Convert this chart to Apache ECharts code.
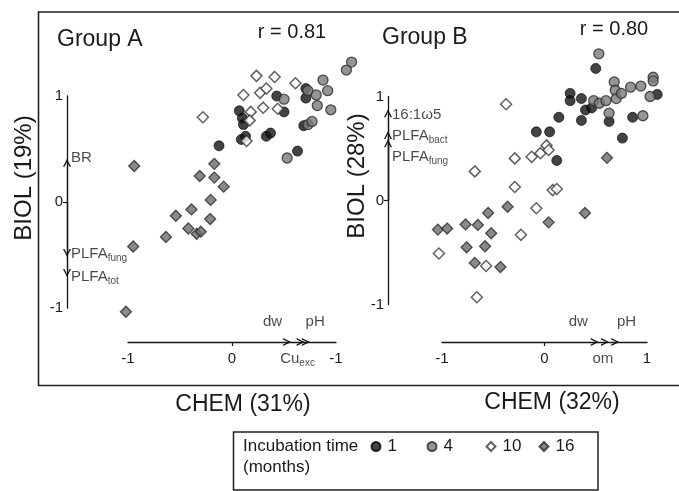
<!DOCTYPE html>
<html><head><meta charset="utf-8">
<script src="https://cdn.jsdelivr.net/npm/echarts@6/dist/echarts.min.js"></script>
<style>html,body{margin:0;padding:0;background:#fff}#c{width:679px;height:491px}</style>
</head><body><div id="c"></div>
<script>
const FONT = '"Liberation Sans", Arial, Helvetica, sans-serif';

// ---------------- DATA ----------------
const tickValues = [-1, 0, 1];
const xTickLabelsA = ['-1', '0', '-1'];
const xTickLabelsB = ['-1', '0', '1'];
const yTickLabels = ['-1', '0', '1'];
const seriesNames = ['1', '4', '10', '16'];

// Group A  [CHEM, BIOL]
const A_m1 = [[-0.125,0.53],[0.07,0.86],[0.10,0.79],[0.11,0.73],[0.09,0.59],[0.13,0.62],[0.33,0.62],[0.37,0.65],[0.43,1.00],[0.50,0.85],[0.63,0.48],[0.71,1.07],[0.71,0.98],[0.69,0.72]];
const A_m4 = [[0.50,0.97],[0.53,0.415],[0.73,0.73],[0.77,0.76],[0.73,1.05],[0.81,1.01],[0.82,0.91],[0.875,1.15],[0.92,1.05],[0.95,0.87],[1.10,1.245],[1.15,1.32]];
const A_m10 = [[-0.28,0.80],[0.235,1.19],[0.41,1.18],[0.61,1.12],[0.11,1.01],[0.27,1.03],[0.33,1.07],[0.30,0.89],[0.44,0.88],[0.18,0.85],[0.17,0.77],[0.14,0.575]];
const A_m16 = [[-0.94,0.34],[-0.95,-0.42],[-1.02,-1.035],[-0.635,-0.33],[-0.54,-0.13],[-0.42,-0.25],[-0.39,-0.07],[-0.34,-0.30],[-0.30,-0.28],[-0.31,0.245],[-0.21,-0.16],[-0.205,0.02],[-0.17,0.36],[-0.17,0.23],[-0.08,0.145]];

// Group B
const B_m1 = [[0.50,1.27],[0.25,1.03],[0.25,0.96],[0.36,0.98],[0.40,0.87],[0.46,0.89],[0.36,0.77],[0.14,0.80],[-0.08,0.66],[0.05,0.66],[0.12,0.385],[0.63,0.76],[0.76,0.60],[0.86,0.80],[1.10,1.02]];
const B_m4 = [[0.53,1.41],[0.48,0.96],[0.535,0.935],[0.60,0.96],[0.68,1.14],[0.69,1.06],[0.70,0.98],[0.75,1.03],[0.84,1.09],[0.94,1.10],[1.06,1.185],[1.06,1.15],[1.03,1.00],[0.63,0.84],[0.96,0.815]];
const B_m10 = [[-0.375,0.925],[-0.68,0.28],[-0.29,0.405],[-0.125,0.42],[-0.04,0.455],[0.02,0.53],[0.04,0.485],[-0.29,0.13],[0.08,0.10],[0.12,0.11],[-0.08,-0.075],[-0.23,-0.33],[-1.03,-0.51],[-0.57,-0.63],[-0.66,-0.93]];
const B_m16 = [[-1.04,-0.28],[-0.95,-0.27],[-0.77,-0.23],[-0.65,-0.235],[-0.55,-0.12],[-0.52,-0.315],[-0.76,-0.45],[-0.58,-0.44],[-0.68,-0.60],[-0.43,-0.64],[-0.36,-0.06],[0.04,-0.21],[0.395,-0.12],[0.61,0.41]];

// biplot vector loadings (arrow tips)
const A_yVec = [0.37, -0.48, -0.67];          // BR, PLFA fung, PLFA tot
const A_xVec = [0.53, 0.66, 0.71];            // dw, Cu exc, pH
const B_yVec = [0.84, 0.63, 0.55];            // 16:1w5, PLFA bact, PLFA fung
const B_xVec = [0.49, 0.59, 0.69];            // dw, om, pH

// ---------------- LAYOUT ----------------
const gridA = {left:128, top:96, width:208, height:212, xOff:34, yOff:61};
const gridB = {left:442, top:96.5, width:205, height:208, xOff:37.5, yOff:54};

const sub = (a, b) => '{m|' + a + '}{s|' + b + '}';
const A_yLab = [{t:'{m|BR}', y:0.42}, {t:sub('PLFA','fung'), y:-0.49}, {t:sub('PLFA','tot'), y:-0.71}];
const A_xLab = [{t:'{m|dw}', x:0.39, above:true}, {t:'{m|pH}', x:0.80, above:true}, {t:sub('Cu','exc'), x:0.63, above:false}];
const B_yLab = [{t:'{m|16:1ω5}', y:0.82}, {t:sub('PLFA','bact'), y:0.62}, {t:sub('PLFA','fung'), y:0.42}];
const B_xLab = [{t:'{m|dw}', x:0.33, above:true}, {t:'{m|pH}', x:0.80, above:true}, {t:'{m|om}', x:0.57, above:false}];

const styles = {
  '1':  {symbol:'circle',  size:10, z:3, item:{color:'#141414', borderColor:'#000', borderWidth:0.8}},
  '4':  {symbol:'circle',  size:10, z:4, item:{color:'#7b7b7b', borderColor:'#2a2a2a', borderWidth:1.3}},
  '10': {symbol:'diamond', size:11, z:6, item:{color:'#ffffff', borderColor:'#3a3a3a', borderWidth:1.5}},
  '16': {symbol:'diamond', size:11, z:5, item:{color:'#6c6c6c', borderColor:'#2a2a2a', borderWidth:1.3}}
};

const rich = {
  m: {fontSize:15, fontFamily:FONT, color:'#1a1a1a', lineHeight:18, verticalAlign:'middle'},
  s: {fontSize:10, fontFamily:FONT, color:'#1a1a1a', lineHeight:8, verticalAlign:'bottom'}
};
const CHEV = 'path://M0,10 L5,0 L10,10 L8.2,10 L5,3.6 L1.8,10 Z';

function axisPair(gi, g, xLabels) {
  const common = {
    type:'value', gridIndex:gi, min:-1, max:1, interval:1,
    splitLine:{show:false},
    axisLine:{show:true, onZero:false, lineStyle:{color:'#151515', width:1.3}},
    axisTick:{show:true, length:4, customValues:[0], lineStyle:{color:'#151515', width:1.2}},
  };
  const x = Object.assign({}, common, {position:'bottom', offset:g.xOff,
    axisLabel:{margin:9, fontSize:15, fontFamily:FONT, color:'#1a1a1a', formatter:v => xLabels[tickValues.indexOf(v)]}});
  const y = Object.assign({}, common, {position:'left', offset:g.yOff,
    axisLabel:{margin:4, fontSize:15, fontFamily:FONT, color:'#1a1a1a', formatter:v => yTickLabels[tickValues.indexOf(v)]}});
  return [x, y];
}

function panelSeries(gi, g, sets, yVec, xVec, yLab, xLab) {
  const out = [];
  seriesNames.forEach((n, k) => {
    const st = styles[n];
    out.push({type:'scatter', name:n, xAxisIndex:gi, yAxisIndex:gi, clip:false, silent:true,
      symbol:st.symbol, symbolSize:st.size, itemStyle:st.item, z:st.z, data:sets[k]});
  });
  // positions of the drawn biplot axes in data units
  const axX = -1 - 2 * g.yOff / g.width;
  const axY = -1 - 2 * g.xOff / g.height;
  const lines = yVec.map(v => ({coords:[[axX, 0], [axX, v]]}))
    .concat(xVec.map(v => ({coords:[[0, axY], [v, axY]]})));
  out.push({type:'lines', coordinateSystem:'cartesian2d', xAxisIndex:gi, yAxisIndex:gi, clip:false, silent:true,
    symbol:['none', CHEV], symbolSize:[8, 8], z:2,
    lineStyle:{color:'#151515', width:1.2, opacity:1, curveness:0}, data:lines});
  const labs = yLab.map(l => ({value:[axX, l.y], label:{show:true, position:'right', distance:4, formatter:l.t, rich}}))
    .concat(xLab.map(l => ({value:[l.x, axY + (l.above ? 0.19 : -0.16) * 212 / g.height], label:{show:true, position:'inside', formatter:l.t, rich}})));
  out.push({type:'scatter', xAxisIndex:gi, yAxisIndex:gi, clip:false, silent:true, symbolSize:0, z:7,
    itemStyle:{color:'transparent'}, data:labs});
  return out;
}

const [xA, yA] = axisPair(0, gridA, xTickLabelsA);
const [xB, yB] = axisPair(1, gridB, xTickLabelsB);

const txt = (text, x, y, size, align, extra) => Object.assign({type:'text', x, y, silent:true,
  style:{text, fontSize:size, fontFamily:FONT, fill:'#1a1a1a', align:align || 'left', verticalAlign:'middle'}}, extra || {});

const legendCenters = [375, 431, 490, 543];

const option = {
  backgroundColor:'#ffffff',
  animation:false,
  grid:[
    {left:gridA.left, top:gridA.top, width:gridA.width, height:gridA.height, outerBoundsMode:'none'},
    {left:gridB.left, top:gridB.top, width:gridB.width, height:gridB.height, outerBoundsMode:'none'}
  ],
  xAxis:[xA, xB],
  yAxis:[yA, yB],
  legend: seriesNames.map((n, i) => ({
    data:[n], left:legendCenters[i] - 4.5, top:438, itemWidth:9, itemHeight:9, itemGap:0, padding:0,
    selectedMode:false, textStyle:{fontSize:17, fontFamily:FONT, color:'#1a1a1a', padding:[0,0,0,2]}
  })),
  series: []
    .concat(panelSeries(0, gridA, [A_m1, A_m4, A_m10, A_m16], A_yVec, A_xVec, A_yLab, A_xLab))
    .concat(panelSeries(1, gridB, [B_m1, B_m4, B_m10, B_m16], B_yVec, B_xVec, B_yLab, B_xLab)),
  graphic: [
    {type:'rect', silent:true, shape:{x:38.5, y:12, width:700, height:373.5}, style:{fill:'none', stroke:'#202020', lineWidth:1.6}},
    {type:'rect', silent:true, shape:{x:233.5, y:432, width:364.5, height:58}, style:{fill:'none', stroke:'#202020', lineWidth:1.5}},
    txt('Group A', 57, 40, 23),
    txt('r = 0.81', 292, 32, 20, 'center'),
    txt('Group B', 382, 38, 23),
    txt('r = 0.80', 614, 29, 20, 'center'),
    txt('BIOL (19%)', 24, 178, 24, 'center', {rotation:Math.PI / 2}),
    txt('BIOL (28%)', 357, 176, 24, 'center', {rotation:Math.PI / 2}),
    txt('CHEM (31%)', 243, 405, 23, 'center'),
    txt('CHEM (32%)', 552, 403, 23, 'center'),
    txt('Incubation time', 243, 446, 17),
    txt('(months)', 243, 467, 17)
  ]
};

const chart = echarts.init(document.getElementById('c'), null, {renderer:'canvas'});
chart.setOption(option);
</script>
</body></html>
